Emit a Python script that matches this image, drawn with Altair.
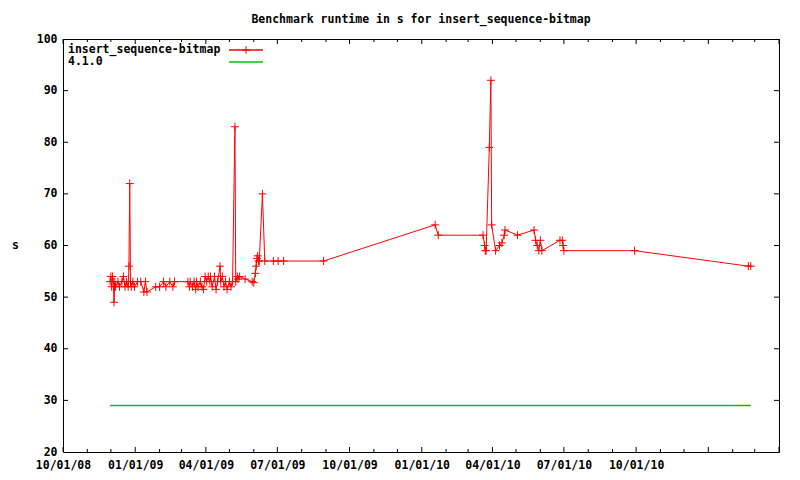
import altair as alt
import pandas as pd

# ---- data ----
run_dates = [
    "2008-11-30", "2008-12-01", "2008-12-02", "2008-12-03", "2008-12-04", "2008-12-05",
    "2008-12-06", "2008-12-07", "2008-12-10", "2008-12-12", "2008-12-15", "2008-12-17",
    "2008-12-19", "2008-12-21", "2008-12-23", "2008-12-24", "2008-12-25", "2008-12-26",
    "2008-12-27", "2008-12-29", "2008-12-31", "2009-01-04", "2009-01-08", "2009-01-12",
    "2009-01-14", "2009-01-16", "2009-01-27", "2009-02-01", "2009-02-06", "2009-02-09",
    "2009-02-14", "2009-02-18", "2009-02-20",
    "2009-03-09", "2009-03-11", "2009-03-12", "2009-03-15", "2009-03-17", "2009-03-19",
    "2009-03-20", "2009-03-22", "2009-03-25", "2009-03-27", "2009-03-29", "2009-03-31",
    "2009-04-02", "2009-04-04", "2009-04-06", "2009-04-07", "2009-04-09", "2009-04-12",
    "2009-04-14", "2009-04-16", "2009-04-19", "2009-04-20", "2009-04-22", "2009-04-24",
    "2009-04-26", "2009-04-28", "2009-05-01", "2009-05-03", "2009-05-05", "2009-05-08",
    "2009-05-09", "2009-05-11", "2009-05-12", "2009-05-14", "2009-05-21", "2009-05-30",
    "2009-06-01", "2009-06-03", "2009-06-04", "2009-06-05", "2009-06-06", "2009-06-07",
    "2009-06-08", "2009-06-12", "2009-06-15", "2009-06-26", "2009-07-02", "2009-07-09",
    "2009-08-29",
    "2010-01-18", "2010-01-22", "2010-03-20", "2010-03-22", "2010-03-23", "2010-03-24",
    "2010-03-28", "2010-03-30", "2010-03-31", "2010-04-05", "2010-04-10", "2010-04-13",
    "2010-04-16", "2010-04-17", "2010-05-03", "2010-05-24", "2010-05-26", "2010-05-28",
    "2010-05-30", "2010-06-01", "2010-06-03", "2010-06-26", "2010-06-29", "2010-06-30",
    "2010-07-01",
    "2010-09-29", "2011-02-21", "2011-02-24",
]
run_values = [
    53, 54, 52, 54, 53, 49,
    53, 52, 53, 52, 53, 54,
    52, 53, 52, 56, 72, 53,
    52, 53, 52, 53, 53, 51,
    53, 51, 52, 52, 53, 52,
    53, 52, 53,
    53, 52, 53, 52, 53, 51.5,
    53, 52, 53, 52, 51.5, 54,
    53, 54, 53, 54, 52, 54,
    51.5, 53, 56, 53, 54, 52,
    53, 51.5, 53, 52, 53, 83,
    53, 54, 53.5, 54, 53.5, 53,
    52.8, 54.6, 56, 57.5, 58, 57,
    57, 70, 57, 57, 57, 57,
    57,
    64, 62, 62, 60, 59, 59,
    79, 92, 64, 59, 60, 60.5,
    62, 63, 62, 63, 61, 60,
    59, 61, 59, 61, 61, 60,
    59,
    59, 56, 56,
]
ref_dates = ["2008-11-30", "2011-02-24"]
ref_values = [29, 29]

series_names = ["insert_sequence-bitmap", "4.1.0"]
series_colors = ["#ff0000", "#00c000"]

major_tick_dates = ["2008-10-01", "2009-01-01", "2009-04-01", "2009-07-01", "2009-10-01",
                    "2010-01-01", "2010-04-01", "2010-07-01", "2010-10-01", "2011-01-01",
                    "2011-04-01"]
labelled_dates = major_tick_dates[:9]
minor_tick_dates = ["2008-11-01", "2008-12-01", "2009-02-01", "2009-03-01", "2009-05-01",
                    "2009-06-01", "2009-08-01", "2009-09-01", "2009-11-01", "2009-12-01",
                    "2010-02-01", "2010-03-01", "2010-05-01", "2010-06-01", "2010-08-01",
                    "2010-09-01", "2010-11-01", "2010-12-01", "2011-02-01", "2011-03-01"]
y_ticks = [20, 30, 40, 50, 60, 70, 80, 90, 100]

title_text = "Benchmark runtime in s for insert_sequence-bitmap"
y_title = "s"

# ---- layout / style ----
W, H = 716, 413
FONT = "DejaVu Sans Mono"
FS = 11.5
MAJ, MIN = 5, 3


def dt(s):
    y, m, d = (int(p) for p in s.split("-"))
    return alt.DateTime(year=y, month=m, date=d)


runs = pd.DataFrame({"date": pd.to_datetime(run_dates), "value": run_values})
refs = pd.DataFrame({"date": pd.to_datetime(ref_dates), "value": ref_values})
majors = pd.DataFrame({"date": pd.to_datetime(major_tick_dates)})
minors = pd.DataFrame({"date": pd.to_datetime(minor_tick_dates)})
yt = pd.DataFrame({"value": y_ticks[1:-1]})
legend_df = pd.DataFrame({"name": series_names, "row": [0, 1]})

x_scale = alt.Scale(domain=[dt("2008-10-01"), dt("2011-04-01")])
y_scale = alt.Scale(domain=[20, 100], nice=False, zero=False)

x_axis = alt.Axis(values=[dt(s) for s in labelled_dates], format="%m/%d/%y", ticks=False,
                  domain=False, grid=False, labelPadding=7, title=None, labelFlush=False,
                  labelOverlap=False)
y_axis = alt.Axis(values=y_ticks, ticks=False, domain=False, grid=False, labelPadding=6,
                  title=y_title, titleAngle=0, titleX=-48, titleY=206, titleAlign="center",
                  titleBaseline="middle")

X = alt.X("date:T", scale=x_scale, axis=x_axis)
Y = alt.Y("value:Q", scale=y_scale, axis=y_axis)

red_line = alt.Chart(runs).mark_line(strokeWidth=1).encode(
    x=X, y=Y, stroke=alt.value(series_colors[0]))
red_pts = alt.Chart(runs).mark_point(
    shape="M-1,0L1,0M0,-1L0,1", filled=False, size=64, strokeWidth=1, opacity=1).encode(
    x=X, y=Y, stroke=alt.value(series_colors[0]))
green_line = alt.Chart(refs).mark_line(strokeWidth=1.5, opacity=1).encode(
    x=X, y=Y, stroke=alt.value(series_colors[1]))

tick_layers = [
    alt.Chart(majors).mark_rule(stroke="black", strokeWidth=1).encode(
        x=X, y=alt.value(H), y2=alt.value(H - MAJ)),
    alt.Chart(majors).mark_rule(stroke="black", strokeWidth=1).encode(
        x=X, y=alt.value(0), y2=alt.value(MAJ)),
    alt.Chart(minors).mark_rule(stroke="black", strokeWidth=1).encode(
        x=X, y=alt.value(H), y2=alt.value(H - MIN)),
    alt.Chart(minors).mark_rule(stroke="black", strokeWidth=1).encode(
        x=X, y=alt.value(0), y2=alt.value(MIN)),
    alt.Chart(yt).mark_rule(stroke="black", strokeWidth=1).encode(
        y=Y, x=alt.value(0), x2=alt.value(MAJ)),
    alt.Chart(yt).mark_rule(stroke="black", strokeWidth=1).encode(
        y=Y, x=alt.value(W), x2=alt.value(W - MAJ)),
]

legend_layers = []
for i in range(len(series_names)):
    ly = 11 + 12 * i
    base = alt.Chart(legend_df).transform_filter(alt.datum.row == i)
    legend_layers.append(base.mark_text(
        align="left", baseline="middle", font=FONT, fontSize=FS, fontWeight="bold",
        color="black").encode(text="name:N", x=alt.value(5), y=alt.value(ly)))
    legend_layers.append(base.mark_rule(strokeWidth=1.5).encode(
        x=alt.value(166), x2=alt.value(200), y=alt.value(ly),
        stroke=alt.value(series_colors[i])))
legend_layers.append(alt.Chart(legend_df).transform_filter(alt.datum.row == 0).mark_point(
    shape="M-1,0L1,0M0,-1L0,1", filled=False, size=64, strokeWidth=1, opacity=1).encode(
    x=alt.value(183), y=alt.value(11), stroke=alt.value(series_colors[0])))

chart = alt.layer(
    *tick_layers, red_line, red_pts, green_line, *legend_layers
).properties(
    width=W, height=H,
    title=alt.TitleParams(title_text, font=FONT, fontSize=FS, fontWeight="bold",
                          anchor="middle", offset=8, color="black"),
    autosize=alt.AutoSizeParams(type="none"),
    padding={"left": 55, "top": 31, "right": 8, "bottom": 24},
).configure_view(
    stroke="black", strokeWidth=1
).configure_axis(
    labelFont=FONT, labelFontSize=FS, labelFontWeight="bold", labelColor="black",
    titleFont=FONT, titleFontSize=FS, titleFontWeight="bold", titleColor="black",
)

chart.save("out.html", embed_options={"renderer": "svg", "actions": False})
